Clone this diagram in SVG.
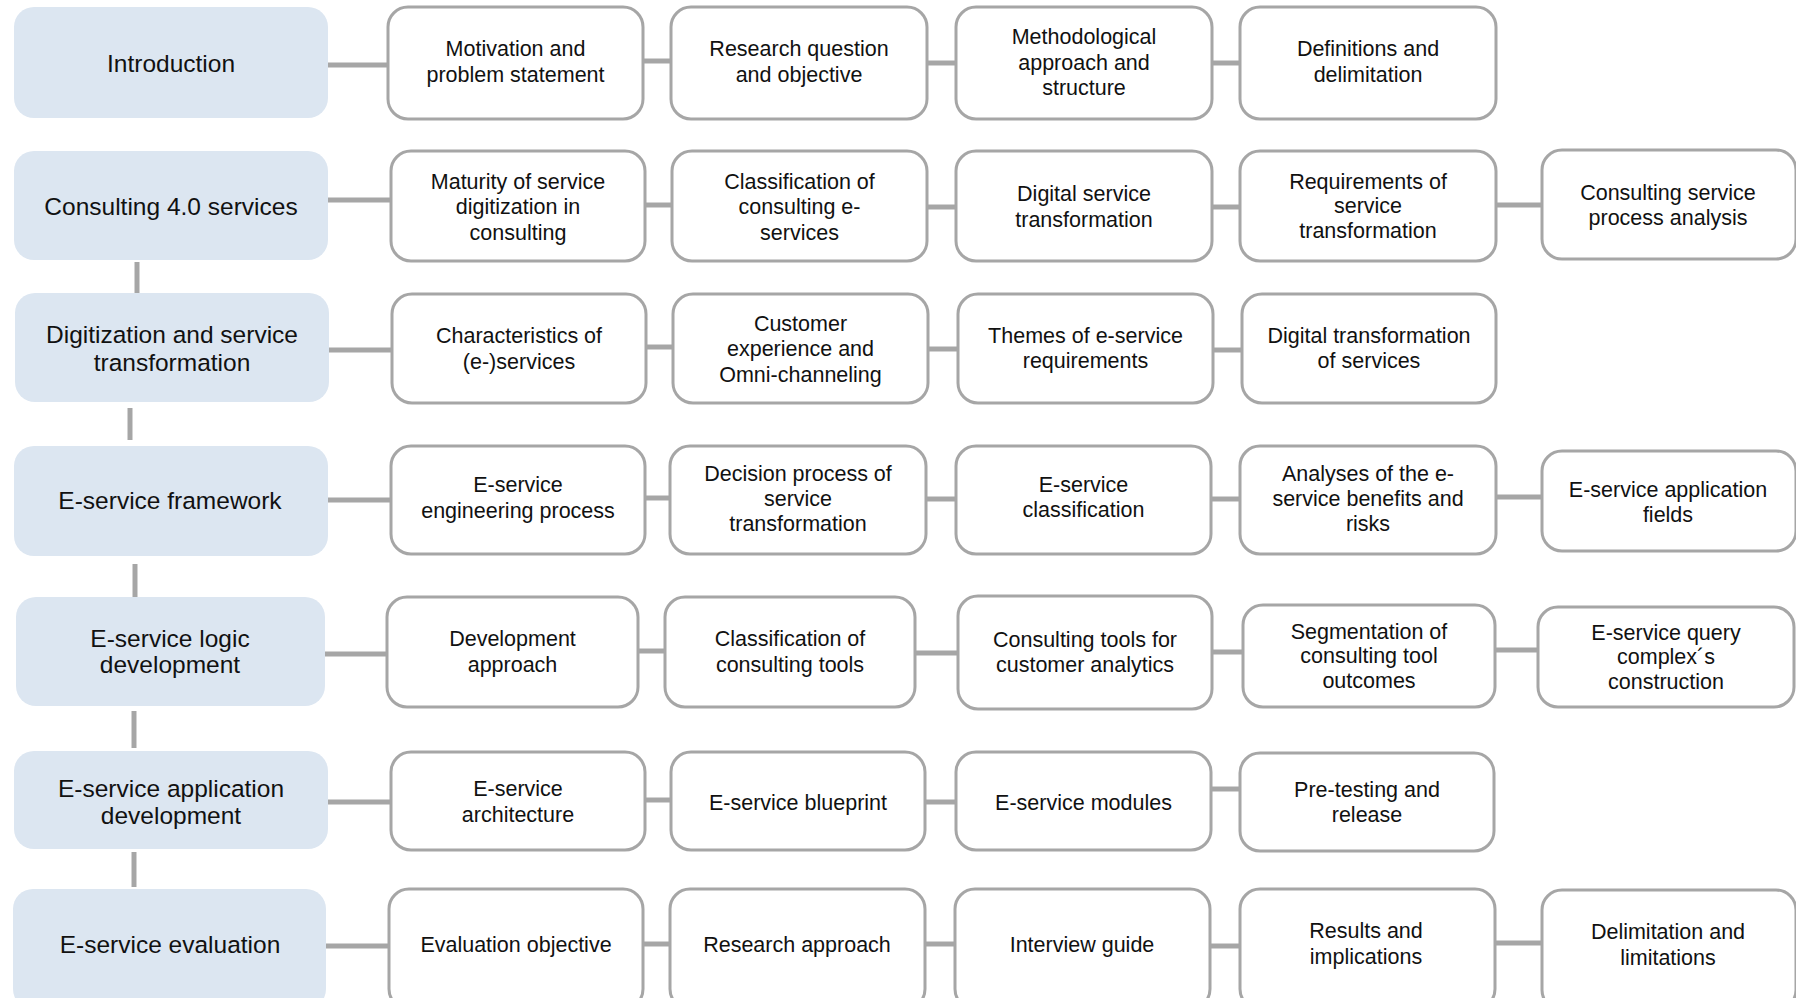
<svg xmlns="http://www.w3.org/2000/svg" width="1796" height="998" viewBox="0 0 1796 998">
  <style>
    .lbox { fill: #dce6f1; }
    .sbox { fill: #ffffff; stroke: #a6a6a6; stroke-width: 3; }
    .lt { font-family: "Liberation Sans", Arial, sans-serif; font-size: 24.5px; fill: #111111; text-anchor: middle; }
    .st { font-family: "Liberation Sans", Arial, sans-serif; font-size: 21.5px; fill: #111111; text-anchor: middle; }
    .conn { stroke: #a6a6a6; stroke-width: 5; fill: none; }
  </style>
  <rect width="1796" height="998" fill="#ffffff"/>

  <!-- connectors -->
  <g id="connectors" class="conn">
    <!-- chapter spine -->
    <line x1="137" y1="262" x2="137" y2="293"/>
    <line x1="130" y1="408" x2="130" y2="440"/>
    <line x1="135" y1="564" x2="135" y2="597"/>
    <line x1="134" y1="711" x2="134" y2="748"/>
    <line x1="134" y1="852" x2="134" y2="887"/>
    <!-- row 1 -->
    <line x1="328" y1="65" x2="388" y2="65"/>
    <line x1="643" y1="61" x2="671" y2="61"/>
    <line x1="927" y1="63" x2="956" y2="63"/>
    <line x1="1212" y1="63" x2="1240" y2="63"/>
    <!-- row 2 -->
    <line x1="328" y1="200" x2="391" y2="200"/>
    <line x1="645" y1="205" x2="672" y2="205"/>
    <line x1="927" y1="207" x2="956" y2="207"/>
    <line x1="1212" y1="207" x2="1240" y2="207"/>
    <line x1="1496" y1="205" x2="1542" y2="205"/>
    <!-- row 3 -->
    <line x1="329" y1="350" x2="392" y2="350"/>
    <line x1="646" y1="347" x2="673" y2="347"/>
    <line x1="928" y1="349" x2="958" y2="349"/>
    <line x1="1213" y1="350" x2="1242" y2="350"/>
    <!-- row 4 -->
    <line x1="328" y1="500" x2="391" y2="500"/>
    <line x1="645" y1="498" x2="670" y2="498"/>
    <line x1="926" y1="499" x2="956" y2="499"/>
    <line x1="1211" y1="499" x2="1240" y2="499"/>
    <line x1="1496" y1="497" x2="1542" y2="497"/>
    <!-- row 5 -->
    <line x1="325" y1="654" x2="387" y2="654"/>
    <line x1="638" y1="651" x2="665" y2="651"/>
    <line x1="915" y1="653" x2="958" y2="653"/>
    <line x1="1212" y1="652" x2="1243" y2="652"/>
    <line x1="1495" y1="650" x2="1538" y2="650"/>
    <!-- row 6 -->
    <line x1="328" y1="802" x2="391" y2="802"/>
    <line x1="645" y1="800" x2="671" y2="800"/>
    <line x1="925" y1="802" x2="956" y2="802"/>
    <line x1="1211" y1="789" x2="1240" y2="789"/>
    <!-- row 7 -->
    <line x1="326" y1="946" x2="389" y2="946"/>
    <line x1="643" y1="944" x2="670" y2="944"/>
    <line x1="925" y1="944" x2="955" y2="944"/>
    <line x1="1210" y1="946" x2="1240" y2="946"/>
    <line x1="1495" y1="943" x2="1542" y2="943"/>
  </g>

  <!-- row 1: Introduction -->
  <g id="ch-introduction">
    <rect class="lbox" x="14" y="7" width="314" height="111" rx="20"/>
    <text class="lt" x="171" y="71.5">Introduction</text>
  </g>
  <g id="n-motivation">
    <rect class="sbox" x="388" y="7" width="255" height="112" rx="20"/>
    <text class="st" x="515.5" y="55.5">Motivation and<tspan x="515.5" dy="26.5">problem statement</tspan></text>
  </g>
  <g id="n-research-question">
    <rect class="sbox" x="671" y="7" width="256" height="112" rx="20"/>
    <text class="st" x="799" y="55.5">Research question<tspan x="799" dy="26.5">and objective</tspan></text>
  </g>
  <g id="n-methodological">
    <rect class="sbox" x="956" y="7" width="256" height="112" rx="20"/>
    <text class="st" x="1084" y="44">Methodological<tspan x="1084" dy="25.7">approach and</tspan><tspan x="1084" dy="25.7">structure</tspan></text>
  </g>
  <g id="n-definitions">
    <rect class="sbox" x="1240" y="7" width="256" height="112" rx="20"/>
    <text class="st" x="1368" y="55.5">Definitions and<tspan x="1368" dy="26.5">delimitation</tspan></text>
  </g>

  <!-- row 2: Consulting 4.0 services -->
  <g id="ch-consulting">
    <rect class="lbox" x="14" y="151" width="314" height="109" rx="20"/>
    <text class="lt" x="171" y="214.5">Consulting 4.0 services</text>
  </g>
  <g id="n-maturity">
    <rect class="sbox" x="391" y="151" width="254" height="110" rx="20"/>
    <text class="st" x="518" y="188.5">Maturity of service<tspan x="518" dy="25.7">digitization in</tspan><tspan x="518" dy="25.7">consulting</tspan></text>
  </g>
  <g id="n-classification-eservices">
    <rect class="sbox" x="672" y="151" width="255" height="110" rx="20"/>
    <text class="st" x="799.5" y="188.5">Classification of<tspan x="799.5" dy="25.7">consulting e-</tspan><tspan x="799.5" dy="25.7">services</tspan></text>
  </g>
  <g id="n-digital-service">
    <rect class="sbox" x="956" y="151" width="256" height="110" rx="20"/>
    <text class="st" x="1084" y="201">Digital service<tspan x="1084" dy="25.5">transformation</tspan></text>
  </g>
  <g id="n-requirements">
    <rect class="sbox" x="1240" y="151" width="256" height="110" rx="20"/>
    <text class="st" x="1368" y="188.5">Requirements of<tspan x="1368" dy="24.7">service</tspan><tspan x="1368" dy="24.7">transformation</tspan></text>
  </g>
  <g id="n-process-analysis">
    <rect class="sbox" x="1542" y="150" width="254" height="109" rx="20"/>
    <text class="st" x="1668" y="200">Consulting service<tspan x="1668" dy="25.3">process analysis</tspan></text>
  </g>

  <!-- row 3: Digitization and service transformation -->
  <g id="ch-digitization">
    <rect class="lbox" x="15" y="293" width="314" height="109" rx="20"/>
    <text class="lt" x="172" y="343">Digitization and service<tspan x="172" dy="27.5">transformation</tspan></text>
  </g>
  <g id="n-characteristics">
    <rect class="sbox" x="392" y="294" width="254" height="109" rx="20"/>
    <text class="st" x="519" y="343">Characteristics of<tspan x="519" dy="26.3">(e-)services</tspan></text>
  </g>
  <g id="n-customer-experience">
    <rect class="sbox" x="673" y="294" width="255" height="109" rx="20"/>
    <text class="st" x="800.5" y="330.5">Customer<tspan x="800.5" dy="25.7">experience and</tspan><tspan x="800.5" dy="25.7">Omni-channeling</tspan></text>
  </g>
  <g id="n-themes">
    <rect class="sbox" x="958" y="294" width="255" height="109" rx="20"/>
    <text class="st" x="1085.5" y="343">Themes of e-service<tspan x="1085.5" dy="25.3">requirements</tspan></text>
  </g>
  <g id="n-digital-transformation">
    <rect class="sbox" x="1242" y="294" width="254" height="109" rx="20"/>
    <text class="st" x="1369" y="343">Digital transformation<tspan x="1369" dy="25.3">of services</tspan></text>
  </g>

  <!-- row 4: E-service framework -->
  <g id="ch-framework">
    <rect class="lbox" x="14" y="446" width="314" height="110" rx="20"/>
    <text class="lt" x="170" y="509">E-service framework</text>
  </g>
  <g id="n-engineering">
    <rect class="sbox" x="391" y="446" width="254" height="108" rx="20"/>
    <text class="st" x="518" y="492">E-service<tspan x="518" dy="26.3">engineering process</tspan></text>
  </g>
  <g id="n-decision-process">
    <rect class="sbox" x="670" y="446" width="256" height="108" rx="20"/>
    <text class="st" x="798" y="480.5">Decision process of<tspan x="798" dy="25.2">service</tspan><tspan x="798" dy="25.2">transformation</tspan></text>
  </g>
  <g id="n-eservice-classification">
    <rect class="sbox" x="956" y="446" width="255" height="108" rx="20"/>
    <text class="st" x="1083.5" y="492">E-service<tspan x="1083.5" dy="25.2">classification</tspan></text>
  </g>
  <g id="n-analyses">
    <rect class="sbox" x="1240" y="446" width="256" height="108" rx="20"/>
    <text class="st" x="1368" y="480.5">Analyses of the e-<tspan x="1368" dy="25.2">service benefits and</tspan><tspan x="1368" dy="25.2">risks</tspan></text>
  </g>
  <g id="n-application-fields">
    <rect class="sbox" x="1542" y="451" width="254" height="100" rx="20"/>
    <text class="st" x="1668" y="496.5">E-service application<tspan x="1668" dy="25.2">fields</tspan></text>
  </g>

  <!-- row 5: E-service logic development -->
  <g id="ch-logic">
    <rect class="lbox" x="16" y="597" width="309" height="109" rx="20"/>
    <text class="lt" x="170" y="646.5">E-service logic<tspan x="170" dy="26.3">development</tspan></text>
  </g>
  <g id="n-development-approach">
    <rect class="sbox" x="387" y="597" width="251" height="110" rx="20"/>
    <text class="st" x="512.5" y="645.5">Development<tspan x="512.5" dy="26.3">approach</tspan></text>
  </g>
  <g id="n-classification-tools">
    <rect class="sbox" x="665" y="597" width="250" height="110" rx="20"/>
    <text class="st" x="790" y="645.5">Classification of<tspan x="790" dy="26.3">consulting tools</tspan></text>
  </g>
  <g id="n-customer-analytics">
    <rect class="sbox" x="958" y="596" width="254" height="113" rx="20"/>
    <text class="st" x="1085" y="646.5">Consulting tools for<tspan x="1085" dy="25.3">customer analytics</tspan></text>
  </g>
  <g id="n-segmentation">
    <rect class="sbox" x="1243" y="605" width="252" height="102" rx="20"/>
    <text class="st" x="1369" y="638.5">Segmentation of<tspan x="1369" dy="24.7">consulting tool</tspan><tspan x="1369" dy="24.7">outcomes</tspan></text>
  </g>
  <g id="n-query-complex">
    <rect class="sbox" x="1538" y="607" width="256" height="100" rx="20"/>
    <text class="st" x="1666" y="639.5">E-service query<tspan x="1666" dy="24.7">complex´s</tspan><tspan x="1666" dy="24.7">construction</tspan></text>
  </g>

  <!-- row 6: E-service application development -->
  <g id="ch-application">
    <rect class="lbox" x="14" y="751" width="314" height="98" rx="20"/>
    <text class="lt" x="171" y="796.5">E-service application<tspan x="171" dy="27.5">development</tspan></text>
  </g>
  <g id="n-architecture">
    <rect class="sbox" x="391" y="752" width="254" height="98" rx="20"/>
    <text class="st" x="518" y="795.5">E-service<tspan x="518" dy="26.3">architecture</tspan></text>
  </g>
  <g id="n-blueprint">
    <rect class="sbox" x="671" y="752" width="254" height="98" rx="20"/>
    <text class="st" x="798" y="809.5">E-service blueprint</text>
  </g>
  <g id="n-modules">
    <rect class="sbox" x="956" y="752" width="255" height="98" rx="20"/>
    <text class="st" x="1083.5" y="809.5">E-service modules</text>
  </g>
  <g id="n-pretesting">
    <rect class="sbox" x="1240" y="753" width="254" height="98" rx="20"/>
    <text class="st" x="1367" y="796.5">Pre-testing and<tspan x="1367" dy="25.4">release</tspan></text>
  </g>

  <!-- row 7: E-service evaluation -->
  <g id="ch-evaluation">
    <rect class="lbox" x="13" y="889" width="313" height="120" rx="20"/>
    <text class="lt" x="170" y="952.5">E-service evaluation</text>
  </g>
  <g id="n-evaluation-objective">
    <rect class="sbox" x="389" y="889" width="254" height="120" rx="20"/>
    <text class="st" x="516" y="951.5">Evaluation objective</text>
  </g>
  <g id="n-research-approach">
    <rect class="sbox" x="670" y="889" width="255" height="120" rx="20"/>
    <text class="st" x="797" y="951.5">Research approach</text>
  </g>
  <g id="n-interview-guide">
    <rect class="sbox" x="955" y="889" width="255" height="120" rx="20"/>
    <text class="st" x="1082" y="951.5">Interview guide</text>
  </g>
  <g id="n-results">
    <rect class="sbox" x="1240" y="889" width="255" height="120" rx="20"/>
    <text class="st" x="1366" y="937.5">Results and<tspan x="1366" dy="26.4">implications</tspan></text>
  </g>
  <g id="n-delimitation">
    <rect class="sbox" x="1542" y="890" width="254" height="120" rx="20"/>
    <text class="st" x="1668" y="938.5">Delimitation and<tspan x="1668" dy="26.4">limitations</tspan></text>
  </g>
</svg>
